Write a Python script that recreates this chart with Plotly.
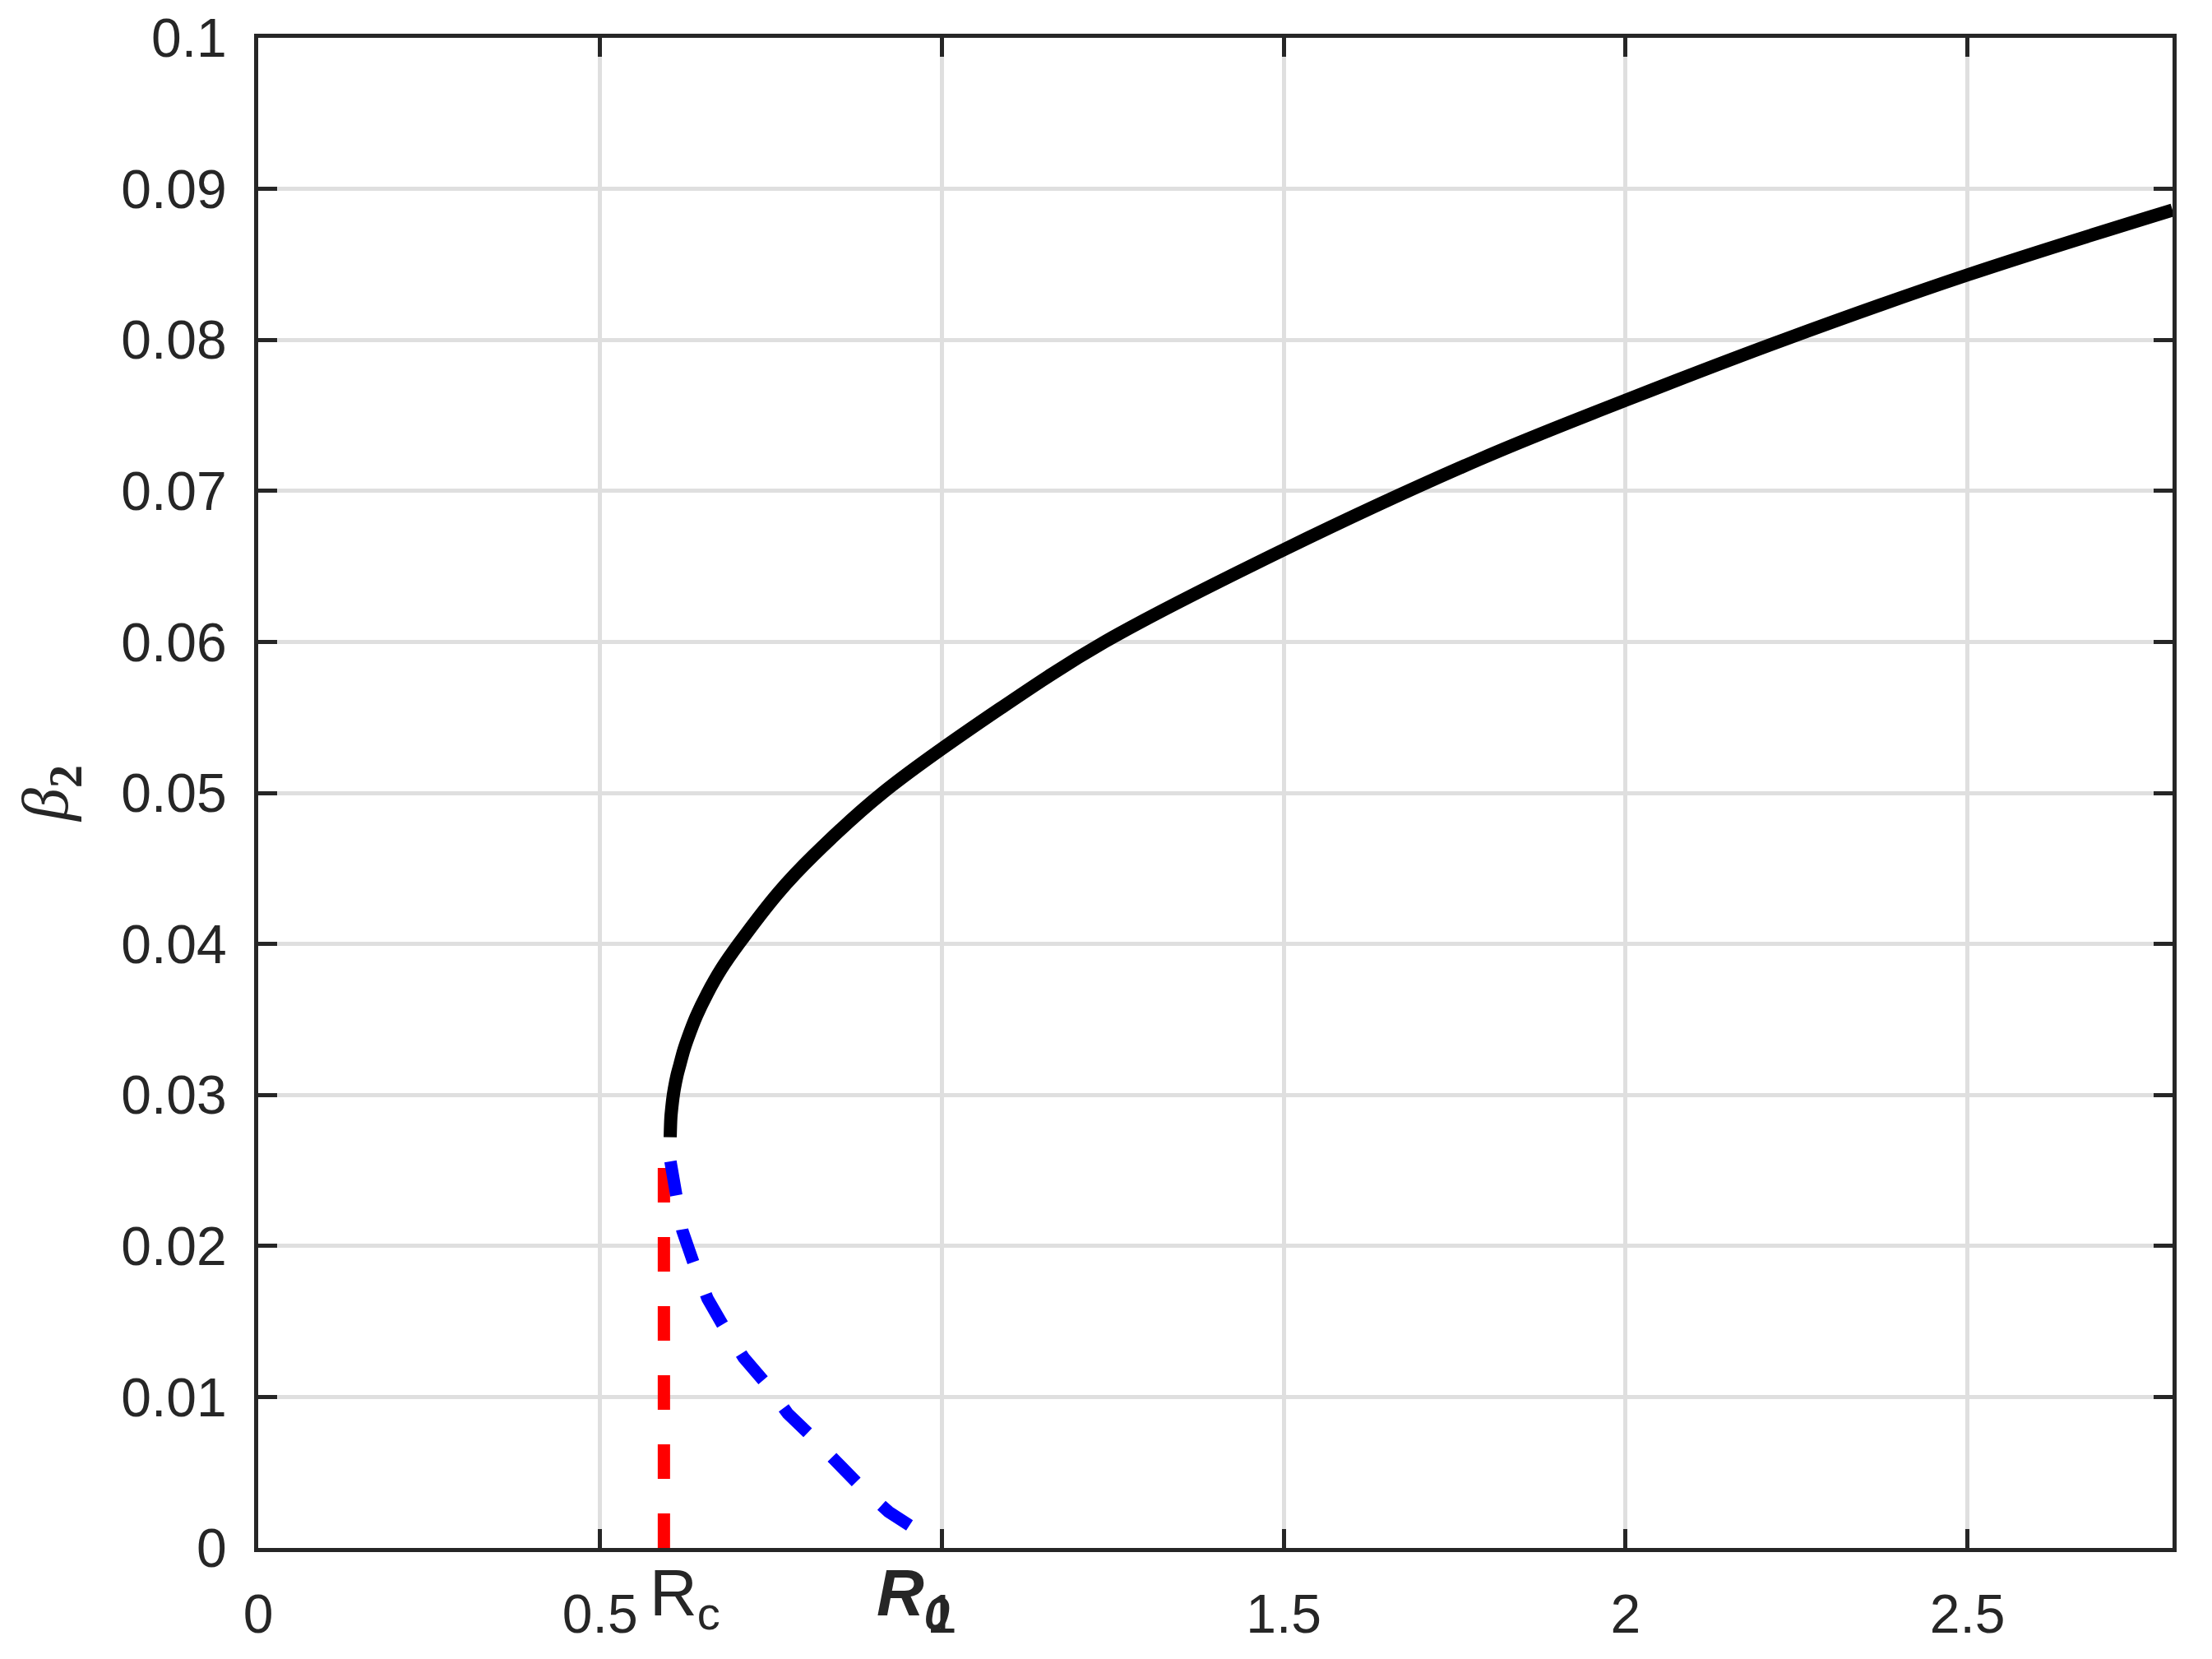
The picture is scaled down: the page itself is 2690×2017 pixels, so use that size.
import plotly.graph_objects as go

# stable branch (solid black)
black_r = [0.6026, 0.6036, 0.6046, 0.6066, 0.6086, 0.6126, 0.6167, 0.6227, 0.6287, 0.6407,
           0.6567, 0.6768, 0.7028, 0.761, 0.8131, 0.9133, 1.0857, 1.238, 1.5, 1.787,
           2.0, 2.231, 2.5, 2.8]
black_b = [0.0272, 0.0285, 0.0290, 0.0298, 0.0304, 0.0313, 0.0320, 0.0330, 0.0338, 0.0352,
           0.0367, 0.0383, 0.0400, 0.0434, 0.0459, 0.0500, 0.0556, 0.0600, 0.0661, 0.0721,
           0.0760, 0.0800, 0.0843, 0.0886]

# unstable branch (blue dashed)
blue_r = [0.6030, 0.6098, 0.6205, 0.6366, 0.6573, 0.6803, 0.7102, 0.7425, 0.7746, 0.8092,
          0.846, 0.885, 0.922, 0.9635, 0.99]
blue_b = [0.0256, 0.0234, 0.0210, 0.0189, 0.0165, 0.0147, 0.0126, 0.0109, 0.0089, 0.0074,
          0.0056, 0.0039, 0.0024, 0.0011, 0.0004]

# Rc marker (red dashed)
rc = 0.5934
red_r = [rc, rc]
red_b = [0.0, 0.0256]

x_ticks = [0, 0.5, 1, 1.5, 2, 2.5]
x_labels = ["0", "0.5", "1", "1.5", "2", "2.5"]
y_ticks = [0, 0.01, 0.02, 0.03, 0.04, 0.05, 0.06, 0.07, 0.08, 0.09, 0.1]
y_labels = ["0", "0.01", "0.02", "0.03", "0.04", "0.05", "0.06", "0.07", "0.08", "0.09", "0.1"]

ink = "#262626"
grid = "#dfdfdf"
font = "Liberation Sans, Arial, sans-serif"

fig = go.Figure()
fig.add_trace(go.Scatter(x=red_r, y=red_b, mode="lines",
                         line=dict(color="#ff0000", width=15, dash="42px,42px")))
fig.add_trace(go.Scatter(x=blue_r, y=blue_b, mode="lines",
                         line=dict(color="#0000ff", width=15, dash="42px,42px")))
fig.add_trace(go.Scatter(x=black_r, y=black_b, mode="lines",
                         line=dict(color="#000000", width=16, shape="spline", smoothing=1.0)))

axis_common = dict(
    showline=True, linecolor=ink, linewidth=5, mirror="ticks",
    ticks="inside", ticklen=23, tickwidth=5, tickcolor=ink,
    showgrid=True, gridcolor=grid, gridwidth=5, zeroline=False,
    automargin=False,
    tickfont=dict(family=font, size=66, color=ink),
)

fig.update_xaxes(range=[0, 2.8], tickvals=x_ticks, ticktext=x_labels,
                 ticklabelstandoff=19, **axis_common)
fig.update_yaxes(range=[0, 0.1], tickvals=y_ticks, ticktext=y_labels,
                 ticklabelstandoff=20,
                 title=dict(text="<i>β</i><b><sub>2</sub></b>", standoff=40,
                            font=dict(family="Liberation Serif, serif", size=80, color=ink)),
                 **axis_common)

fig.add_annotation(x=rc, y=0, xref="x", yref="paper", yanchor="top", xanchor="center",
                   xshift=26, yshift=-8, showarrow=False,
                   text="R<sub>c</sub>", font=dict(family=font, size=80, color=ink))
fig.add_annotation(x=1.0, y=0, xref="x", yref="paper", yanchor="top", xanchor="center",
                   xshift=-35, yshift=-8, showarrow=False,
                   text="<b><i>R<sub>0</sub></i></b>", font=dict(family=font, size=80, color=ink))

# the page body adds an 8px offset, so the figure is sized to fit the window
fig.update_layout(
    width=2682, height=2009,
    margin=dict(l=306, r=48, t=38, b=135),
    paper_bgcolor="white", plot_bgcolor="white",
    showlegend=False,
)

fig.write_html("out.html")
